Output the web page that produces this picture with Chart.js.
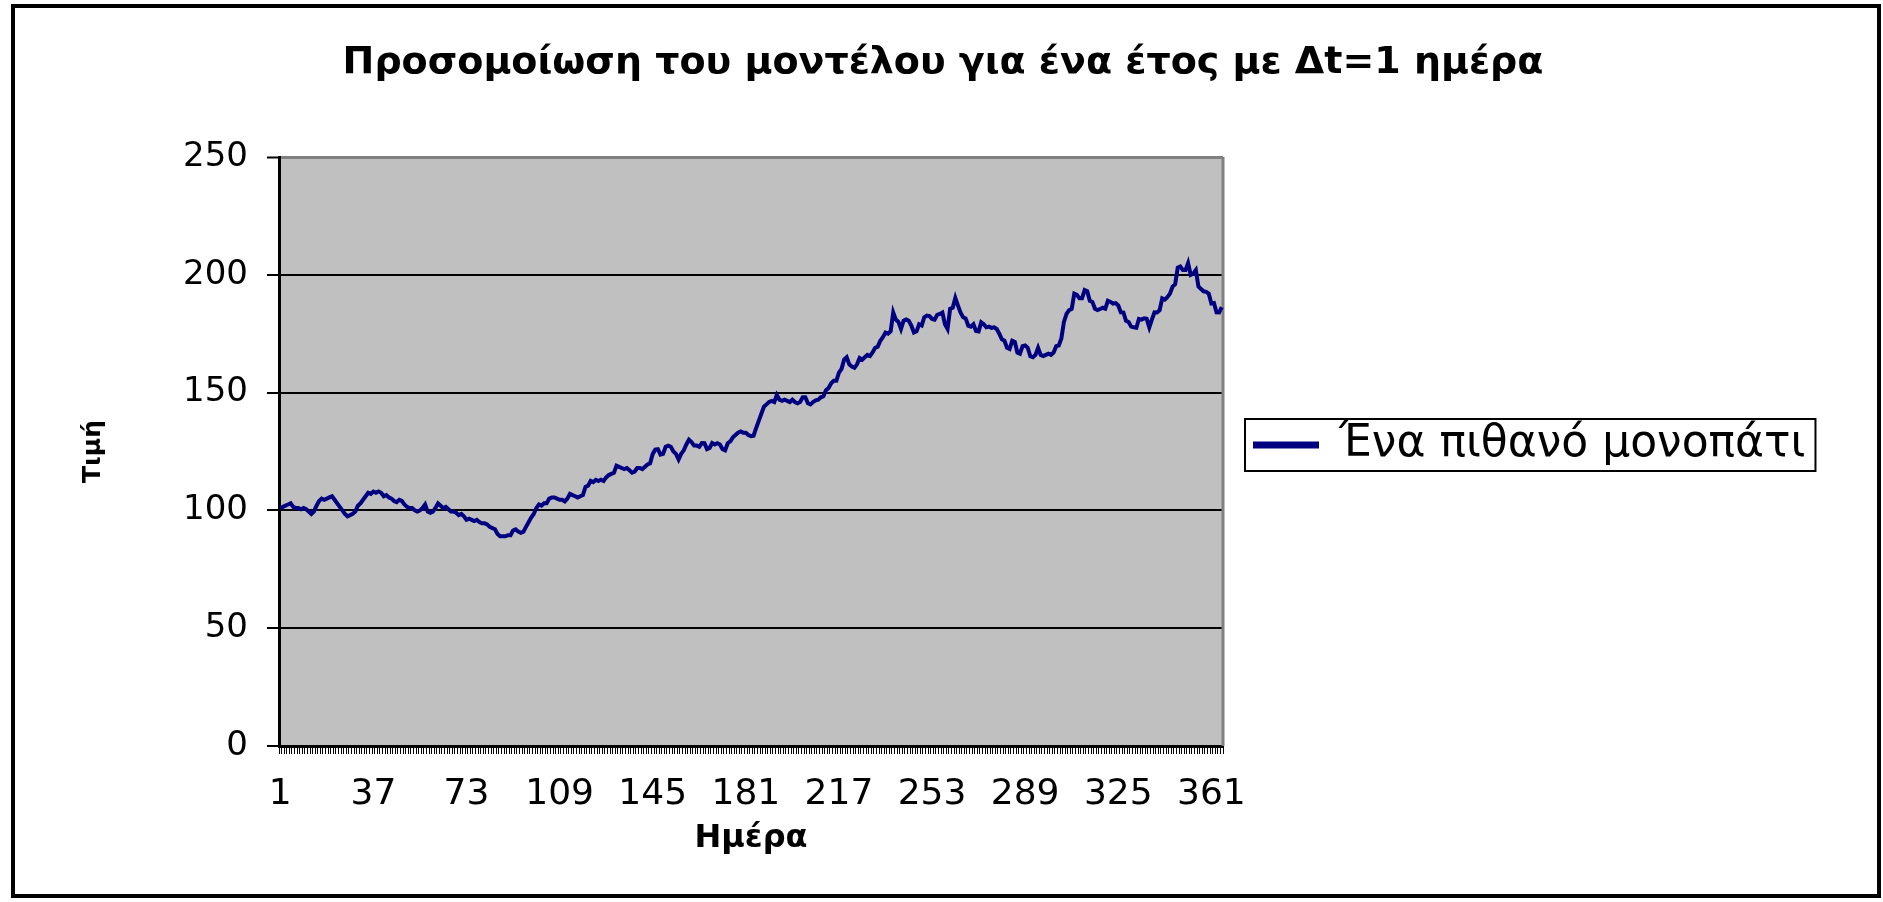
<!DOCTYPE html>
<html>
<head>
<meta charset="utf-8">
<title>Προσομοίωση του μοντέλου</title>
<script src="https://cdn.jsdelivr.net/npm/chart.js@4.4.1/dist/chart.umd.min.js"></script>
<style>
  html, body { margin: 0; padding: 0; background: #fff; }
  #contenedor { width: 1883px; height: 902px; }
</style>
</head>
<body>
<div id="contenedor"><canvas id="graficoLinea"></canvas></div>
<script>
// dias 1..365 (categorias del eje x)
const dias = [];
for (let d = 1; d <= 365; d++) dias.push(String(d));

const etiquetasX = ['1', '37', '73', '109', '145', '181', '217', '253', '289', '325', '361'];
const ticksY = [0, 50, 100, 150, 200, 250];

// valores, 10 por fila
const trayectoria = [
  101, 101.5, 102, 102.5, 103, 101.5, 101, 101, 100.5, 101,
  100.5, 99.5, 98.5, 99.5, 102, 104, 105, 104.5, 105, 105.5,
  106, 104.5, 103, 101.5, 100, 98.5, 97.5, 98, 98.5, 99.5,
  102, 103, 104.5, 106, 107.5, 107, 108, 107.5, 108, 107.5,
  106, 106.5, 105.5, 105, 104, 103.5, 104.5, 104, 102.5, 101.5,
  101, 101, 100, 99.5, 100, 101, 102.5, 99.5, 99, 99.5,
  101, 103, 102, 101, 101.5, 100.5, 99.5, 99.5, 99, 98,
  98.5, 97.5, 96, 96.5, 96, 95.5, 96, 95, 94.5, 94.5,
  94, 93, 92.5, 92, 90, 89, 89, 89, 89.5, 89.5,
  91.5, 92, 91, 90.5, 91, 93, 95, 97, 98.5, 101,
  102.5, 102, 103, 103, 105, 105.5, 105.5, 105, 104.5, 104.5,
  103.8, 105, 107, 106.5, 106, 105.5, 106, 106.5, 110, 110.5,
  112.5, 112, 113, 112.5, 113, 112.5, 114, 115, 115.5, 116,
  119, 118.5, 118, 117.5, 118, 117, 116, 116.5, 118, 118,
  117.5, 118.5, 119.5, 120, 124, 125.8, 126, 123.7, 124, 127,
  127.5, 127, 125, 124, 121.6, 124, 125.5, 128, 130, 129,
  127.5, 127.5, 127, 128.6, 128.5, 126, 126.5, 128.6, 128, 128.5,
  128, 126, 125.5, 128.5, 129.3, 131, 132, 133, 133.5, 133,
  133, 132, 131.5, 131.7, 135, 138, 141, 144, 145, 146,
  146.5, 146, 149, 147, 146.5, 147, 146.5, 146, 147, 146,
  145.5, 146, 148, 148, 145.5, 145, 146, 146.7, 147, 148,
  148.5, 151, 152, 154, 155, 155, 158.5, 160, 164, 165,
  162, 161, 160.5, 162, 164.7, 164, 165, 166, 165.5, 167,
  169, 169.5, 172, 173.5, 175.5, 175, 176, 184, 181, 180,
  177, 180.5, 181, 180.5, 178.4, 175.5, 176, 179, 178.5, 182,
  182.7, 182.5, 181.3, 181, 183, 183.4, 184, 179, 177, 185.6,
  186, 190.2, 187, 184, 182, 181.5, 178.4, 178, 179, 176.2,
  176, 179.8, 179, 177.7, 178, 177.5, 177.7, 177, 175, 172.6,
  172, 169, 168.5, 172, 171.5, 167, 166.5, 169.7, 170, 169,
  165.4, 165, 166, 169, 166, 165.5, 166, 166.5, 166, 167,
  169.7, 170, 173, 180, 183.4, 185, 185.5, 192, 191.5, 190,
  190, 193.5, 193, 189, 188.5, 185.6, 185, 185.5, 186, 185.6,
  189, 188.5, 187.8, 188, 187, 184.1, 184, 180.5, 180, 178,
  177.7, 177.5, 181.3, 181, 181.5, 181.3, 177.7, 181, 184.1, 184,
  185, 190, 189.5, 190.5, 192, 195, 196, 203, 203.5, 202,
  202, 205, 200, 200.5, 202, 195, 194, 193, 192.8, 192,
  187.8, 188, 184.1, 184, 186.3
];

Chart.defaults.font.family = "'DejaVu Sans', sans-serif";
Chart.defaults.color = '#000';

// fondo gris del area, marco exterior y recuadro de la leyenda
const marcoGrafico = {
  id: 'marcoGrafico',
  beforeDraw(chart) {
    const { ctx, chartArea: a, width, height } = chart;
    ctx.save();
    ctx.fillStyle = '#fff';
    ctx.fillRect(0, 0, width, height);
    ctx.strokeStyle = '#000';
    ctx.lineWidth = 4;
    ctx.strokeRect(13, 6, 1866, 890);
    ctx.fillStyle = '#c0c0c0';
    ctx.fillRect(a.left, a.top, a.right - a.left, a.bottom - a.top);
    ctx.restore();
  },
  beforeDatasetsDraw(chart) {
    const { ctx, chartArea: a } = chart;
    ctx.save();
    ctx.strokeStyle = '#808080';
    ctx.lineWidth = 3;
    ctx.beginPath();
    ctx.moveTo(a.right, a.top);
    ctx.lineTo(a.right, a.bottom);
    ctx.stroke();
    ctx.restore();
  },
  afterDraw(chart) {
    const caja = chart.legend.legendHitBoxes[0];
    if (!caja) return;
    const ctx = chart.ctx;
    ctx.save();
    ctx.strokeStyle = '#000';
    ctx.lineWidth = 2;
    ctx.strokeRect(caja.left - 10, caja.top - 4, caja.width + 20, caja.height + 8);
    ctx.restore();
  }
};

const ctx = document.getElementById('graficoLinea').getContext('2d');
const myLineChart = new Chart(ctx, {
  type: 'line',
  data: {
    labels: dias,
    datasets: [{
      label: 'Ένα πιθανό μονοπάτι',
      data: trayectoria,
      borderColor: '#000080',
      backgroundColor: '#000080',
      borderWidth: 4,
      pointRadius: 0,
      tension: 0,
      fill: false
    }]
  },
  options: {
    responsive: true,
    maintainAspectRatio: false,
    animation: false,
    layout: { padding: { left: 75, right: 20, top: 28, bottom: 40 } },
    plugins: {
      title: {
        display: true,
        text: 'Προσομοίωση του μοντέλου για ένα έτος με Δt=1 ημέρα',
        font: { size: 38, weight: 'bold' },
        padding: { top: 12, bottom: 71.4 }
      },
      legend: {
        position: 'right',
        align: 'center',
        maxWidth: 800,
        labels: {
          boxWidth: 62,
          boxHeight: 3,
          padding: 32,
          font: { size: 44 }
        }
      },
      tooltip: { enabled: false }
    },
    scales: {
      x: {
        offset: true,
        afterFit(scale) { scale.height = 116; },
        border: { display: true, color: '#000', width: 3 },
        grid: {
          display: true,
          offset: true,
          drawOnChartArea: false,
          drawTicks: true,
          tickLength: 8,
          color: '#000',
          lineWidth: 1
        },
        ticks: {
          autoSkip: false,
          maxRotation: 0,
          minRotation: 0,
          padding: 19,
          font: { size: 36 },
          callback: function(valor, indice) {
            const etiqueta = dias[indice];
            return etiquetasX.includes(etiqueta) ? etiqueta : '';
          }
        },
        title: {
          display: true,
          text: 'Ημέρα',
          font: { size: 32, weight: 'bold' },
          padding: { top: 4, bottom: 4 }
        }
      },
      y: {
        min: ticksY[0],
        max: ticksY[ticksY.length - 1],
        afterFit(scale) { scale.width = 279 - scale.chart.options.layout.padding.left; },
        afterBuildTicks(scale) { scale.ticks = ticksY.map(v => ({ value: v })); },
        border: { display: true, color: '#000', width: 3 },
        grid: {
          color: c => (c.tick && c.tick.value === 250 ? '#808080' : '#000'),
          lineWidth: c => (c.tick && c.tick.value === 250 ? 3 : 2),
          tickColor: '#000',
          tickWidth: 2,
          tickLength: 12
        },
        ticks: {
          padding: 19,
          font: { size: 34 }
        },
        title: {
          display: true,
          text: 'Τιμή',
          font: { size: 25, weight: 'bold' },
          padding: { top: 4, bottom: 4 }
        }
      }
    }
  },
  plugins: [marcoGrafico]
});

// ajustar margenes: borde derecho del area en 1223 y titulo centrado
const margenDer = myLineChart.options.layout.padding.right + (myLineChart.chartArea.right - 1223);
const margenIzq = margenDer + 3;
myLineChart.options.layout.padding.right = margenDer;
myLineChart.options.layout.padding.left = margenIzq;
myLineChart.options.scales.y.title.padding = { top: Math.max(0, 93 - margenIzq - 15), bottom: 4 };
myLineChart.update();
</script>
</body>
</html>
